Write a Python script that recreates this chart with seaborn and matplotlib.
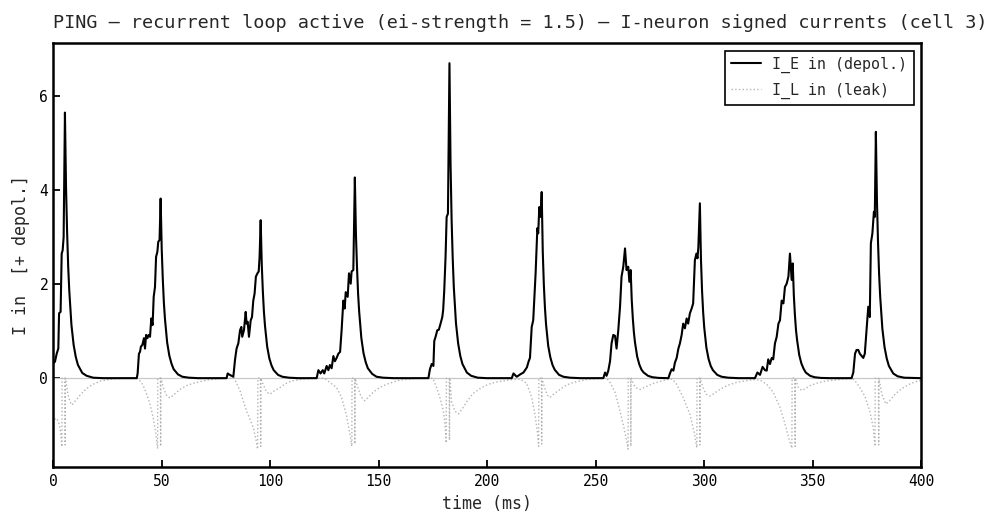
import matplotlib
matplotlib.use("Agg")
import matplotlib.pyplot as plt
import seaborn as sns

# ---------------- data ----------------
t_E = [
    0, 0.9, 1.7, 2.45, 2.8, 3.5, 4.0, 4.45, 4.9, 5.5,
    6.0, 6.5, 7.0, 7.5, 8.5, 9.5, 10.5, 11.5, 13.5, 15.5, 18.5, 23,
    38.6, 39.0, 39.6, 40.1, 40.5, 41.2, 41.9, 42.4, 42.9, 43.5, 44.1, 44.7, 45.3, 45.9,
    46.4, 47.0, 47.5, 48.1, 48.5, 49.1, 49.6,
    50.1, 50.6, 51.1, 51.6, 52.6, 53.6, 54.6, 55.6, 57.6, 59.6, 62.6, 67,
    80.0, 80.5, 81.1, 83.1, 83.9, 84.6, 85.4, 86.2, 86.8, 87.2, 88.0, 88.8, 89.2, 89.7,
    90.3, 91.1, 91.7, 92.3, 92.9, 93.5, 94.2, 94.8, 95.2, 95.7,
    96.2, 96.7, 97.2, 97.7, 98.7, 99.7, 100.7, 101.7, 103.7, 105.7, 108.7, 113,
    121.5, 122.3, 123.3, 124.3, 125.0, 126.1, 126.9, 127.6, 128.4, 129.2, 129.9, 130.7,
    131.5, 132.3, 133.0, 133.8, 134.4, 134.9, 135.8, 136.4, 137.2, 137.6, 138.4, 139.1,
    139.6, 140.1, 140.6, 141.1, 142.1, 143.1, 144.1, 145.1, 147.1, 149.1, 152.1, 157,
    173.0, 173.7, 174.5, 175.3, 175.7, 176.3, 177.1, 177.8, 178.6, 179.4, 179.8, 180.3,
    180.9, 181.4, 182.0, 182.7,
    183.2, 183.7, 184.2, 184.7, 185.7, 186.7, 187.7, 188.7, 190.7, 192.7, 195.7, 200,
    211.4, 212.2, 213.7, 215.3, 216.8, 218.4, 219.2, 219.8, 220.6, 221.3, 221.8, 222.4,
    223.2, 223.6, 224.1, 224.7, 225.2,
    225.7, 226.2, 226.7, 227.2, 228.2, 229.2, 230.2, 231.2, 233.2, 235.2, 238.2, 243,
    253.6, 254.4, 255.1, 255.9, 256.7, 257.4, 258.2, 259.0, 259.7, 260.5, 261.3, 262.0,
    262.8, 263.6, 264.3, 265.1, 265.6, 266.2,
    266.7, 267.2, 267.7, 268.2, 269.2, 270.2, 271.2, 272.2, 274.2, 276.2, 279.2, 283,
    283.6, 284.3, 285.1, 285.9, 286.6, 287.4, 288.2, 288.9, 289.7, 290.4, 291.2, 292.0,
    292.7, 293.5, 294.3, 295.0, 295.8, 296.5, 297.0, 297.4, 298.1,
    298.6, 299.1, 299.6, 300.1, 301.1, 302.1, 303.1, 304.1, 306.1, 308.1, 311.1, 316,
    323.5, 324.6, 325.8, 327.0, 328.1, 328.9, 329.6, 330.4, 331.2, 331.9, 332.7, 333.5,
    334.3, 335.0, 335.8, 336.6, 337.3, 338.1, 338.9, 339.6, 340.4, 340.9,
    341.4, 341.9, 342.4, 342.9, 343.9, 344.9, 345.9, 346.9, 348.9, 350.9, 353.9, 358,
    368.0, 368.8, 369.6, 370.3, 371.1, 371.8, 373.4, 374.1, 374.9, 375.7, 376.4, 376.9,
    377.6, 378.3, 378.7, 379.2,
    379.7, 380.2, 380.7, 381.2, 382.2, 383.2, 384.2, 385.2, 387.2, 389.2, 392.2, 400,
]
I_E = [
    0.31, 0.35, 0.52, 0.63, 1.38, 1.41, 2.65, 2.72, 3.0, 5.65,
    4.07, 3.11, 2.37, 1.86, 1.13, 0.71, 0.45, 0.28, 0.11, 0.05, 0.01, 0.0,
    0, 0.1, 0.52, 0.56, 0.67, 0.71, 0.85, 0.63, 0.92, 0.85, 0.92, 0.88, 1.27, 1.13,
    1.73, 1.94, 2.58, 2.69, 2.9, 2.94, 3.82,
    2.75, 2.10, 1.60, 1.26, 0.76, 0.48, 0.31, 0.19, 0.08, 0.03, 0.01, 0,
    0, 0.1, 0.08, 0.03, 0.4, 0.63, 0.74, 1.02, 1.09, 0.88, 1.02, 1.41, 1.16, 1.2,
    0.88, 1.23, 1.3, 1.65, 1.8, 2.16, 2.23, 2.27, 2.58, 3.36,
    2.42, 1.85, 1.41, 1.11, 0.67, 0.42, 0.27, 0.17, 0.07, 0.03, 0.01, 0,
    0, 0.17, 0.1, 0.17, 0.1, 0.26, 0.17, 0.28, 0.21, 0.47, 0.36, 0.43,
    0.52, 0.56, 1.02, 1.65, 1.48, 1.83, 1.73, 2.23, 2.01, 2.27, 2.3, 4.27,
    3.07, 2.35, 1.79, 1.41, 0.85, 0.53, 0.34, 0.21, 0.09, 0.03, 0.01, 0,
    0, 0.19, 0.3, 0.26, 0.79, 0.88, 1.02, 1.03, 1.16, 1.3, 1.45, 1.87,
    2.58, 3.43, 3.5, 6.7,
    4.56, 3.35, 2.55, 1.94, 1.17, 0.74, 0.47, 0.30, 0.12, 0.05, 0.01, 0,
    0, 0.1, 0.03, 0.08, 0.12, 0.23, 0.36, 0.43, 1.09, 1.23, 1.7, 2.23,
    3.19, 3.08, 3.64, 3.43, 3.96,
    2.69, 1.98, 1.50, 1.15, 0.69, 0.44, 0.28, 0.18, 0.07, 0.03, 0.01, 0,
    0, 0.12, 0.05, 0.16, 0.36, 0.74, 0.92, 0.9, 0.63, 1.02, 1.52, 2.16,
    2.37, 2.76, 2.3, 2.37, 2.05, 2.3,
    1.66, 1.27, 0.97, 0.76, 0.46, 0.29, 0.18, 0.12, 0.05, 0.02, 0.005, 0,
    0, 0.1, 0.19, 0.16, 0.33, 0.43, 0.63, 0.74, 0.92, 1.16, 1.06, 1.27,
    1.16, 1.38, 1.48, 1.59, 2.51, 2.65, 2.55, 2.79, 3.72,
    2.53, 1.86, 1.41, 1.08, 0.65, 0.41, 0.26, 0.17, 0.07, 0.03, 0.01, 0,
    0, 0.12, 0.07, 0.24, 0.17, 0.16, 0.4, 0.3, 0.43, 0.4, 0.74, 0.88,
    1.16, 1.23, 1.65, 1.59, 1.94, 2.01, 2.16, 2.65, 2.09, 2.44,
    1.76, 1.34, 1.02, 0.81, 0.49, 0.31, 0.20, 0.12, 0.05, 0.02, 0.005, 0,
    0, 0.12, 0.52, 0.6, 0.6, 0.52, 0.43, 0.52, 1.02, 1.52, 1.3, 2.87,
    3.08, 3.54, 3.43, 5.24,
    3.77, 2.88, 2.20, 1.73, 1.05, 0.66, 0.42, 0.26, 0.10, 0.04, 0.01, 0,
]

t_L = [
    0, 1.2, 2.0, 3.0, 3.6, 4.1, 4.2, 5.5, 5.6, 5.7, 6.8, 7.8, 8.8, 10.5, 12.5, 15, 18, 22, 27, 33,
    38.6, 40.1, 41.5, 43, 44.7, 46.2, 47.4, 48.2, 48.3, 49.5, 49.6, 49.7, 51, 52.5, 53.9,
    55.5, 58.5, 61.5, 64.6, 70.8, 77, 80,
    83.5, 86.2, 89.2, 91, 92.3, 93.5, 94.3, 94.4, 95.6, 95.7, 95.8, 97, 98.5, 100, 102,
    104.6, 107, 110, 115, 120,
    125, 127.6, 130.7, 133, 135.3, 136.8, 137.7, 137.8, 139.0, 139.1, 139.2, 140.5, 142,
    143.7, 145.5, 147.5, 150.5, 153.7, 159.8, 166, 170,
    175, 176.8, 178.3, 179.9, 180.7, 181.2, 181.3, 182.6, 182.7, 182.8, 183.7, 185.2,
    186.8, 188.5, 190.7, 193.5, 196.9, 200.5, 204.6, 210,
    215.3, 218.3, 220.6, 222.1, 223.1, 223.8, 223.9, 225.1, 225.2, 225.3, 226.5, 227.8,
    229, 231, 233.6, 236.5, 239.8, 245.9, 252,
    255.1, 256.7, 259, 261.3, 263.1, 264.4, 265.0, 265.1, 266.2, 266.3, 266.4, 267.8,
    269.5, 270.5, 272.5, 276.7, 282.8,
    285.5, 287.4, 290.4, 293.5, 295.5, 296.7, 296.8, 298.0, 298.1, 298.2, 299.5, 301,
    302.7, 304.5, 307.3, 311, 315, 322.7,
    325.8, 328.9, 331.9, 335, 337.3, 339.2, 340.5, 340.6, 341.9, 342.0, 342.1, 343.5,
    345, 346.5, 348.9, 352.5, 356.5, 364.2, 368,
    369.5, 371.8, 374.1, 376.4, 378.0, 378.8, 378.9, 380.4, 380.5, 380.6, 382, 383.8,
    385.5, 387.3, 389.5, 391.9, 395, 398, 400,
]
I_L = [
    -0.95, -0.85, -0.88, -1.0, -1.2, -1.46, 0, 0, -1.42, 0, -0.32, -0.5, -0.57, -0.47,
    -0.36, -0.24, -0.14, -0.06, -0.02, 0,
    0, -0.06, -0.15, -0.32, -0.55, -0.85, -1.18, -1.5, 0, 0, -1.45, 0, -0.22, -0.38, -0.42,
    -0.36, -0.24, -0.16, -0.11, -0.04, -0.01, 0,
    0, -0.27, -0.7, -0.9, -1.05, -1.3, -1.51, 0, 0, -1.45, 0, -0.15, -0.3, -0.34, -0.27,
    -0.2, -0.12, -0.06, -0.02, 0,
    0, -0.09, -0.2, -0.41, -0.8, -1.19, -1.45, 0, 0, -1.4, 0, -0.2, -0.4,
    -0.48, -0.4, -0.3, -0.2, -0.13, -0.04, -0.01, 0,
    0, -0.2, -0.41, -0.7, -1.0, -1.38, 0, 0, -1.32, 0, -0.5, -0.7,
    -0.76, -0.66, -0.5, -0.33, -0.22, -0.13, -0.08, -0.04,
    -0.02, -0.11, -0.41, -0.77, -1.1, -1.45, 0, 0, -1.4, 0, -0.2, -0.36,
    -0.41, -0.33, -0.24, -0.15, -0.09, -0.03, 0,
    0, -0.09, -0.3, -0.7, -1.05, -1.35, -1.51, 0, 0, -1.45, 0, -0.15,
    -0.23, -0.24, -0.2, -0.11, -0.03,
    -0.02, -0.13, -0.41, -0.77, -1.15, -1.48, 0, 0, -1.42, 0, -0.2, -0.34,
    -0.38, -0.33, -0.24, -0.15, -0.09, -0.03,
    -0.04, -0.13, -0.3, -0.62, -0.97, -1.3, -1.49, 0, 0, -1.45, 0, -0.2,
    -0.26, -0.23, -0.16, -0.1, -0.06, -0.02, 0,
    -0.05, -0.2, -0.38, -0.7, -1.05, -1.45, 0, 0, -1.42, 0, -0.35, -0.55,
    -0.48, -0.38, -0.28, -0.2, -0.12, -0.07, -0.05,
]

x_ticks = [0, 50, 100, 150, 200, 250, 300, 350, 400]
y_ticks = [0, 2, 4, 6]
label_E = "I_E in (depol.)"
label_L = "I_L in (leak)"
title = "PING \u2013 recurrent loop active (ei-strength = 1.5) \u2013 I-neuron signed currents (cell 3)"

# ---------------- style ----------------
sns.set_style("ticks")
plt.rcParams["font.family"] = ["DejaVu Sans Mono"]
plt.rcParams["xtick.direction"] = "in"
plt.rcParams["ytick.direction"] = "in"

fig = plt.figure(figsize=(9.99, 5.25), dpi=100)
ax = fig.add_axes([53 / 999, 1 - 467 / 525, (921 - 53) / 999, (467 - 43) / 525])

ax.axhline(0, color="#c8c8c8", lw=0.9, zorder=1)
sns.lineplot(x=t_E, y=I_E, ax=ax, color="black", lw=1.5, label=label_E,
             estimator=None, sort=False, zorder=3)
sns.lineplot(x=t_L, y=I_L, ax=ax, color="#b4b4b4", lw=1.0, linestyle=":",
             label=label_L, estimator=None, sort=False, zorder=2)

ax.set_xlim(0, 400)
ax.set_ylim(-1.89, 7.13)
ax.set_xticks(x_ticks)
ax.set_yticks(y_ticks)
ax.tick_params(axis="both", labelsize=10.5, length=5, width=1.3, colors="black")
ax.tick_params(axis="x", pad=5)
for s in ax.spines.values():
    s.set_linewidth(1.8)
    s.set_color("black")
    s.set_visible(True)

ax.set_xlabel("time (ms)", fontsize=12, labelpad=4.5)
ax.set_ylabel("I in  [+ depol.]", fontsize=12, labelpad=7)
ax.set_title(title, loc="left", fontsize=13.3, pad=11)

leg = ax.legend(loc="upper right", fontsize=10.8, frameon=True, fancybox=False,
                framealpha=1, edgecolor="black", labelspacing=0.65)
leg.get_frame().set_linewidth(1.2)

fig.savefig("out.png", dpi=100)
